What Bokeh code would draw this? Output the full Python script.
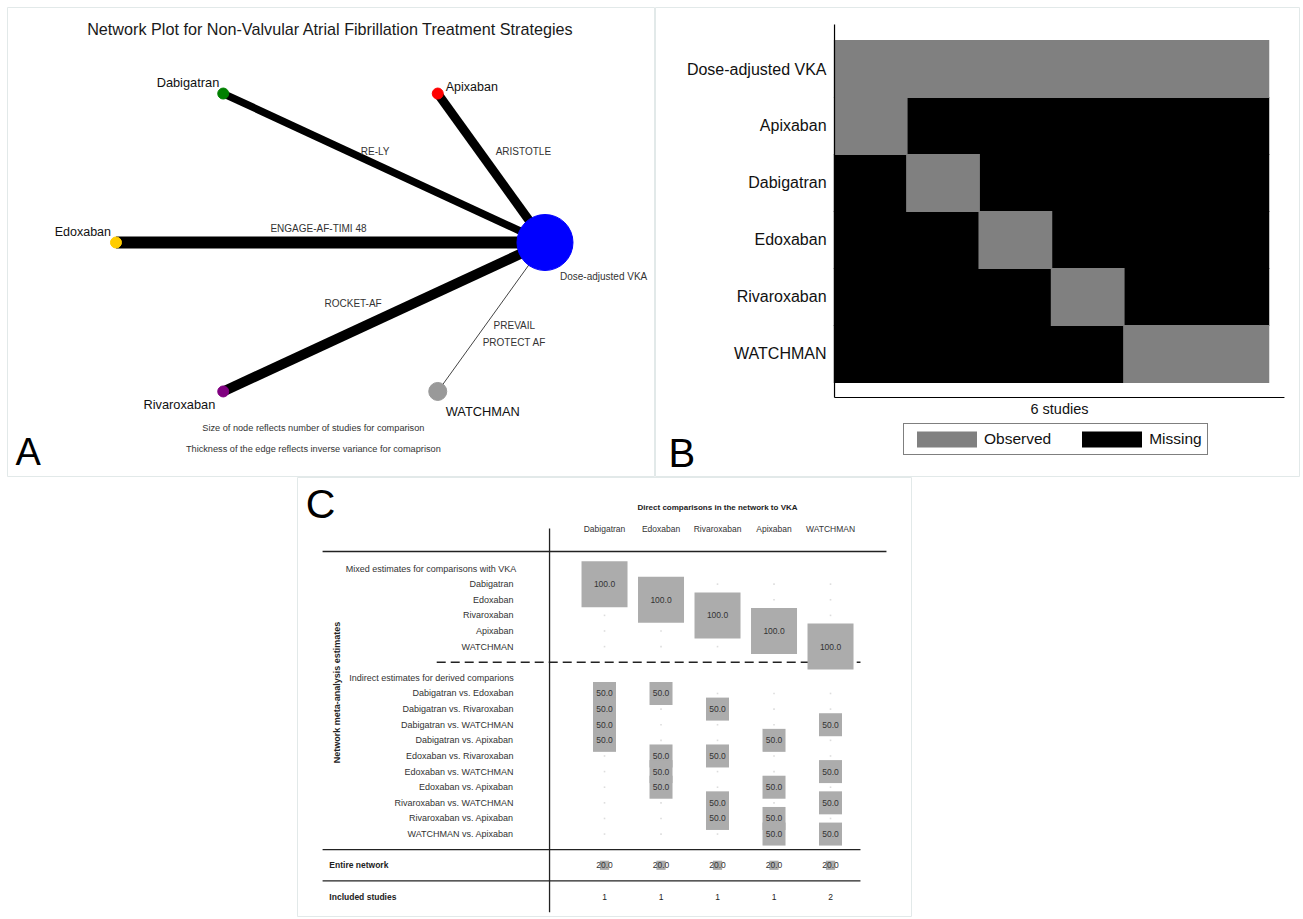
import numpy as np
from bokeh.plotting import figure
from bokeh.models import (ColumnDataSource, Range1d, Legend, LegendItem, Spacer)
from bokeh.layouts import row, column
from bokeh.core.properties import value
from bokeh.embed import file_html
from bokeh.resources import INLINE

FONT = "Liberation Sans"
BORDER = "#e2e9e9"

# ---------------- Panel A data (network plot) ----------------
node_names = ["Dose-adjusted VKA", "Apixaban", "Dabigatran", "Edoxaban", "Rivaroxaban", "WATCHMAN"]
node_angle_deg = [0, 60, 120, 180, 240, 300]
node_colors = ["#0000ff", "#ff0000", "#008000", "#ffcc00", "#800080", "#999999"]
node_sizes = [56, 11, 11, 11, 11, 18]
edge_from = ["Apixaban", "Dabigatran", "Edoxaban", "Rivaroxaban", "WATCHMAN"]
edge_to = "Dose-adjusted VKA"
edge_widths = [9, 7.5, 12, 10, 1]
edge_studies = ["ARISTOTLE", "RE-LY", "ENGAGE-AF-TIMI 48", "ROCKET-AF", "PREVAIL\nPROTECT AF"]

# ---------------- Panel B data (observed / missing matrix) ----------------
b_treatments = ["Dose-adjusted VKA", "Apixaban", "Dabigatran", "Edoxaban", "Rivaroxaban", "WATCHMAN"]
b_studies = ["ARISTOTLE", "RE-LY", "ENGAGE-AF-TIMI 48", "ROCKET-AF", "PREVAIL", "PROTECT AF"]
b_observed = [
    [1, 1, 1, 1, 1, 1],
    [1, 0, 0, 0, 0, 0],
    [0, 1, 0, 0, 0, 0],
    [0, 0, 1, 0, 0, 0],
    [0, 0, 0, 1, 0, 0],
    [0, 0, 0, 0, 1, 1],
]

# ---------------- Panel C data (contribution matrix) ----------------
c_columns = ["Dabigatran", "Edoxaban", "Rivaroxaban", "Apixaban", "WATCHMAN"]
mixed_rows = ["Dabigatran", "Edoxaban", "Rivaroxaban", "Apixaban", "WATCHMAN"]
mixed_vals = [
    [100, 0, 0, 0, 0],
    [0, 100, 0, 0, 0],
    [0, 0, 100, 0, 0],
    [0, 0, 0, 100, 0],
    [0, 0, 0, 0, 100],
]
indirect_rows = ["Dabigatran vs. Edoxaban", "Dabigatran vs. Rivaroxaban", "Dabigatran vs. WATCHMAN",
                 "Dabigatran vs. Apixaban", "Edoxaban vs. Rivaroxaban", "Edoxaban vs. WATCHMAN",
                 "Edoxaban vs. Apixaban", "Rivaroxaban vs. WATCHMAN", "Rivaroxaban vs. Apixaban",
                 "WATCHMAN vs. Apixaban"]
indirect_vals = [
    [50, 50, 0, 0, 0],
    [50, 0, 50, 0, 0],
    [50, 0, 0, 0, 50],
    [50, 0, 0, 50, 0],
    [0, 50, 50, 0, 0],
    [0, 50, 0, 0, 50],
    [0, 50, 0, 50, 0],
    [0, 0, 50, 0, 50],
    [0, 0, 50, 50, 0],
    [0, 0, 0, 50, 50],
]
entire_vals = [20, 20, 20, 20, 20]
included_studies = [1, 1, 1, 1, 2]


def make_fig(w, h, xr, yr):
    p = figure(width=w, height=h, output_backend="svg", toolbar_location=None,
               x_range=Range1d(*xr), y_range=Range1d(*yr), min_border=0,
               x_axis_location=None, y_axis_location=None, title=None)
    p.grid.visible = False
    p.outline_line_color = BORDER
    p.background_fill_color = "white"
    p.border_fill_color = "white"
    return p


def txt(p, x, y, t, size, align="center", baseline="middle", color="#333333", bold=False, **kw):
    p.text(x=x, y=y, text=t, text_align=align, text_baseline=baseline, text_font=value(FONT),
           text_font_size=size, text_color=color,
           text_font_style="bold" if bold else "normal", **kw)


# =====================================================================
# Panel A
# =====================================================================
WA, HA = 648, 470
pA = make_fig(WA, HA, (-1.5058, 1.5152), (-1.3663, 1.3663))

ang = np.radians(node_angle_deg)
nx = np.cos(ang)
ny = np.sin(ang)
pos = {n: (x, y) for n, x, y in zip(node_names, nx, ny)}

ex0 = [pos[n][0] for n in edge_from]
ey0 = [pos[n][1] for n in edge_from]
ex1 = [pos[edge_to][0]] * len(edge_from)
ey1 = [pos[edge_to][1]] * len(edge_from)
pA.segment(x0=ex0, y0=ey0, x1=ex1, y1=ey1, line_width=edge_widths,
           line_color=["black", "black", "black", "black", "#444444"])
pA.scatter(x=nx, y=ny, size=node_sizes, fill_color=node_colors, line_color=node_colors,
           marker="circle")

emx = [(a + b) / 2 for a, b in zip(ex0, ex1)]
emy = [(a + b) / 2 for a, b in zip(ey0, ey1)]
edge_dx = [32, -9, -12, -31, 23]
edge_dy = [-17, -17, -14, -13, 17]
txt(pA, emx, emy, edge_studies, "10px", x_offset=edge_dx, y_offset=edge_dy, text_line_height=1.55)

lab_dx = [15, 8, -4, -5, -8, 8]
lab_dy = [34, -7, -11, -11, 13, 20]
lab_align = ["left", "left", "right", "right", "right", "left"]
lab_fs = ["10px", "12.5px", "12.8px", "12.5px", "12.8px", "12.8px"]
lab_col = ["#333333", "#111111", "#111111", "#111111", "#111111", "#111111"]
srcL = ColumnDataSource(dict(x=nx, y=ny, t=node_names, dx=lab_dx, dy=lab_dy, al=lab_align,
                             fs=lab_fs, c=lab_col))
pA.text(x="x", y="y", text="t", x_offset="dx", y_offset="dy", text_align="al",
        text_baseline="middle", text_font=value(FONT), text_font_size="fs",
        text_color="c", source=srcL)

txt(pA, [0], [1.244], ["Network Plot for Non-Valvular Atrial Fibrillation Treatment Strategies"],
    "16.2px", color="#1a1a1a")
txt(pA, [-0.08, -0.08], [-1.0756, -1.198],
    ["Size of node reflects number of studies for comparison",
     "Thickness of the edge reflects inverse variance for comaprison"], "9.2px")
txt(pA, [-1.468], [-1.2155], ["A"], "38px", align="left", baseline="alphabetic", color="black")

# =====================================================================
# Panel B
# =====================================================================
WB, HB = 645, 470
pB = make_fig(WB, HB, (-2.975, 5.942), (-2.167, 6.079))

nrow = len(b_treatments)
nst = len(b_studies)
obs = dict(x=[], y=[])
mis = dict(x=[], y=[])
for i, trt in enumerate(b_treatments):
    for j, s in enumerate(b_studies):
        d = obs if b_observed[i][j] else mis
        d["x"].append(j)
        d["y"].append(nrow - 1 - i)
r_mis = pB.rect(x="x", y="y", width=1.02, height=1.02, fill_color="black", line_color=None,
                source=ColumnDataSource(mis))
r_obs = pB.rect(x="x", y="y", width=1.02, height=1.02, fill_color="#808080", line_color=None,
                source=ColumnDataSource(obs))

# axes
ax_x0, ax_y0 = -0.5, -0.763
ax_top, ax_right = nrow - 0.22, nst - 0.28
pB.segment(x0=[ax_x0, ax_x0], y0=[ax_y0, ax_y0], x1=[ax_x0, ax_right], y1=[ax_top, ax_y0],
           line_color="black", line_width=1.2)
txt(pB, [ax_x0] * nrow, [nrow - 1 - i for i in range(nrow)], b_treatments, "16px",
    align="right", color="#111111", x_offset=-8)
txt(pB, [(ax_x0 + ax_right) / 2], [ax_y0], [f"{nst} studies"], "14.5px", color="#111111",
    y_offset=12)

legB = Legend(items=[LegendItem(label="Observed", renderers=[r_obs]),
                     LegendItem(label="Missing", renderers=[r_mis])],
              orientation="horizontal", location=(248, 22), border_line_color="black",
              border_line_width=1.2, padding=5, spacing=23, label_standoff=0,
              glyph_width=75, glyph_height=20, label_text_font=FONT,
              label_text_font_size="15.5px", label_text_color="#111111", margin=0,
              background_fill_color="white", background_fill_alpha=1.0)
pB.add_layout(legB, "center")
txt(pB, [-2.796], [-1.729], ["B"], "40px", align="left", baseline="alphabetic", color="black")

# =====================================================================
# Panel C
# =====================================================================
WC, HC = 615, 440
pC = make_fig(WC, HC, (-5.434, 5.451), (22.34, -5.826))

ncol = len(c_columns)
cols_x = list(range(ncol))
r_mixed_head = 0
r_mixed = [1 + i for i in range(len(mixed_rows))]
r_dash = r_mixed[-1] + 1
r_ind_head = r_dash + 1
r_ind = [r_ind_head + 1 + i for i in range(len(indirect_rows))]
r_line1 = r_ind[-1] + 1
r_entire = r_line1 + 1
r_line2 = r_entire + 1
r_incl = r_line2 + 1

x_left, x_right_top, x_right = -4.99, 4.99, 4.53
pC.segment(x0=[x_left], y0=[-1.09], x1=[x_right_top], y1=[-1.09], line_color="#222222", line_width=1.3)
pC.segment(x0=[x_left, x_left], y0=[r_line1, r_line2], x1=[x_right, x_right], y1=[r_line1, r_line2],
           line_color="#222222", line_width=1.3)
pC.segment(x0=[-0.973], y0=[-2.56], x1=[-0.973], y1=[r_incl + 1], line_color="#222222", line_width=1.3)
pC.segment(x0=[-2.97], y0=[r_dash], x1=[x_right], y1=[r_dash], line_color="#222222",
           line_width=1.5, line_dash="9 5")

zx, zy, bx, by, bs, bt = [], [], [], [], [], []
for rows_r, vals in ((r_mixed, mixed_vals), (r_ind, indirect_vals), ([r_entire], [entire_vals])):
    for rr, vrow in zip(rows_r, vals):
        for j, v in enumerate(vrow):
            if v > 0:
                bx.append(j)
                by.append(rr)
                bs.append(v * 0.46)
                bt.append(f"{v:.1f}")
            else:
                zx.append(j)
                zy.append(rr)
pC.scatter(x=zx, y=zy, size=1.6, marker="square", fill_color="#dddddd", line_color=None)
srcC = ColumnDataSource(dict(x=bx, y=by, s=bs, t=bt))
pC.scatter(x="x", y="y", size="s", marker="square", fill_color="#acacac", line_color=None, source=srcC)
pC.text(x="x", y="y", text="t", text_align="center", text_baseline="middle", text_font=value(FONT),
        text_font_size="8.5px", text_color="#333333", source=srcC)

txt(pC, cols_x, [r_incl] * ncol, [str(v) for v in included_studies], "8.5px", color="#222222")
txt(pC, cols_x, [-2.5] * ncol, c_columns, "8.5px")
txt(pC, [2], [-3.9], ["Direct comparisons in the network to VKA"], "8px", color="#222222", bold=True)

txt(pC, [-1.61] * len(mixed_rows), r_mixed, mixed_rows, "9px", align="right")
txt(pC, [-1.61] * len(indirect_rows), r_ind, indirect_rows, "9px", align="right")
txt(pC, [-4.58, -4.52], [r_mixed_head, r_ind_head],
    ["Mixed estimates for comparisons with VKA", "Indirect estimates for derived comparions"],
    "9px", align="left")
txt(pC, [-4.87, -4.87], [r_entire, r_incl], ["Entire network", "Included studies"], "8.5px",
    align="left", color="#222222", bold=True)
txt(pC, [-4.73], [7.94], ["Network meta-analysis estimates"], "9px", color="#222222", bold=True,
    angle=np.pi / 2)
txt(pC, [-5.29], [-4.16], ["C"], "41px", align="left", baseline="alphabetic", color="black")

layout = column(Spacer(width=10, height=7),
                row(Spacer(width=7, height=HA), pA, pB),
                row(Spacer(width=297, height=HC), pC))

with open("out.html", "w") as f:
    f.write(file_html(layout, INLINE))
